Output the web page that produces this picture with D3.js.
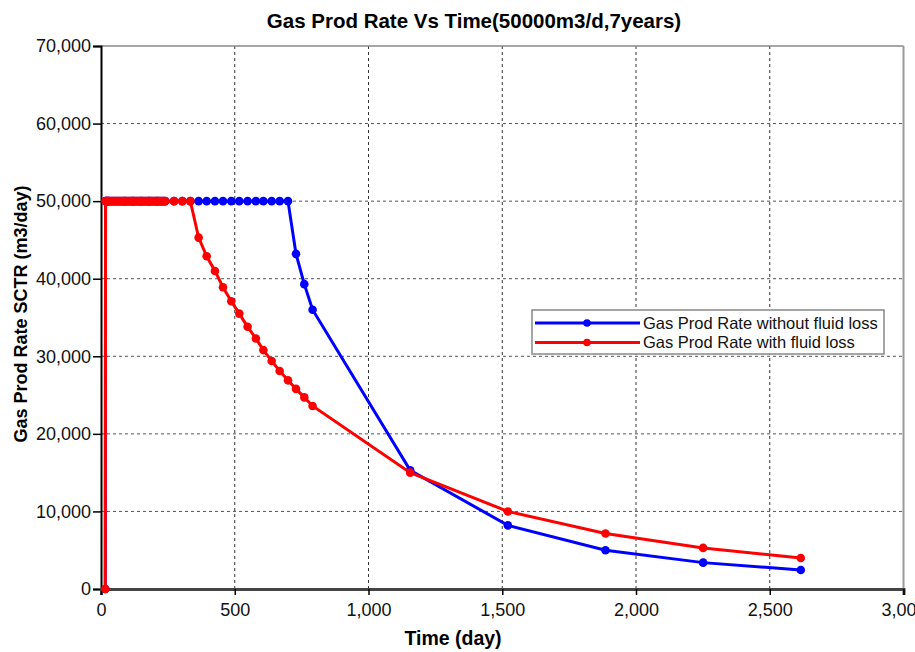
<!DOCTYPE html>
<html>
<head>
<meta charset="utf-8">
<script src="https://cdn.jsdelivr.net/npm/d3@7"></script>
<style>
  body { margin: 0; background: #fff; }
  text { font-family: "Liberation Sans", Arial, sans-serif; }
</style>
</head>
<body>
<div id="chart"></div>
<script>
// time steps (day), shared by both series
const timeDays = [
  16, 17, 20, 24, 28, 31, 38, 45, 52, 59, 66, 73, 80, 87, 90, 97, 104, 111, 118, 120,
  127, 134, 141, 148, 151, 158, 165, 172, 179, 181, 188, 195, 202, 209, 212, 219, 226, 233, 240,
  273, 304, 334,
  365, 395, 426, 456, 487, 517, 548, 579, 607, 638, 668, 699, 729, 760, 791,
  1156, 1521, 1886, 2251, 2616
];

// Gas Prod Rate without fluid loss (m3/day)
const rateNoLoss = [
  0, 50000, 50000, 50000, 50000, 50000, 50000, 50000, 50000, 50000, 50000, 50000, 50000, 50000, 50000, 50000, 50000, 50000, 50000, 50000,
  50000, 50000, 50000, 50000, 50000, 50000, 50000, 50000, 50000, 50000, 50000, 50000, 50000, 50000, 50000, 50000, 50000, 50000, 50000,
  50000, 50000, 50000,
  50000, 50000, 50000, 50000, 50000, 50000, 50000, 50000, 50000, 50000, 50000, 50000, 43200, 39300, 36000,
  15300, 8200, 5000, 3400, 2450
];

// Gas Prod Rate with fluid loss (m3/day)
const rateWithLoss = [
  0, 50000, 50000, 50000, 50000, 50000, 50000, 50000, 50000, 50000, 50000, 50000, 50000, 50000, 50000, 50000, 50000, 50000, 50000, 50000,
  50000, 50000, 50000, 50000, 50000, 50000, 50000, 50000, 50000, 50000, 50000, 50000, 50000, 50000, 50000, 50000, 50000, 50000, 50000,
  50000, 50000, 50000,
  45300, 42900, 41000, 38900, 37100, 35500, 33800, 32300, 30800, 29400, 28100, 26900, 25800, 24700, 23600,
  15000, 10000, 7150, 5300, 4000
];

const xTicks = [0, 500, 1000, 1500, 2000, 2500, 3000];
const yTicks = [0, 10000, 20000, 30000, 40000, 50000, 60000, 70000];
const seriesNames = ["Gas Prod Rate without fluid loss", "Gas Prod Rate with fluid loss"];
const seriesColors = ["#0000ff", "#ff0000"];

const W = 915, H = 652;
const margin = { top: 46, right: 12, bottom: 63, left: 101 };
const width = W - margin.left - margin.right,
      height = H - margin.top - margin.bottom;

const svg = d3.select("#chart").append("svg")
    .attr("width", W)
    .attr("height", H);

const g = svg.append("g")
    .attr("transform", "translate(" + margin.left + "," + margin.top + ")");

const x = d3.scaleLinear().domain([0, 3000]).range([0, 802.5]);
const y = d3.scaleLinear().domain([0, 70000]).range([height, 0]);

// grid
g.append("g").selectAll("line")
    .data(xTicks.slice(1, -1))
    .join("line")
    .attr("x1", d => x(d)).attr("x2", d => x(d))
    .attr("y1", 0).attr("y2", height)
    .attr("stroke", "#333").attr("stroke-width", 1)
    .attr("stroke-dasharray", "3,3");

g.append("g").selectAll("line")
    .data(yTicks.slice(1, -1))
    .join("line")
    .attr("x1", 0).attr("x2", x(3000))
    .attr("y1", d => y(d)).attr("y2", d => y(d))
    .attr("stroke", "#555").attr("stroke-width", 1)
    .attr("stroke-dasharray", "3,3");

// frame top / right
g.append("line")
    .attr("x1", 0).attr("x2", x(3000)).attr("y1", 0).attr("y2", 0)
    .attr("stroke", "#888").attr("stroke-width", 1.5);
g.append("line")
    .attr("x1", x(3000)).attr("x2", x(3000)).attr("y1", 0).attr("y2", height)
    .attr("stroke", "#999").attr("stroke-width", 2);

// axes
const fmt = d3.format(",");
const yAxis = g.append("g")
    .call(d3.axisLeft(y).tickValues(yTicks).tickFormat(fmt).tickSize(8).tickPadding(2));
yAxis.select(".domain").attr("stroke", "#000").attr("stroke-width", 2);
yAxis.selectAll(".tick line").attr("stroke", "#000").attr("stroke-width", 1.5);
yAxis.selectAll("text").attr("font-size", 18).attr("fill", "#111")
    .attr("font-family", "Liberation Sans, Arial, sans-serif");

const xAxis = g.append("g")
    .attr("transform", "translate(0," + height + ")")
    .call(d3.axisBottom(x).tickValues(xTicks).tickFormat(fmt).tickSize(6).tickPadding(8));
xAxis.select(".domain").attr("stroke", "#444").attr("stroke-width", 3);
xAxis.selectAll(".tick line").attr("stroke", "#000").attr("stroke-width", 1.5);
xAxis.selectAll("text").attr("font-size", 18).attr("fill", "#111")
    .attr("font-family", "Liberation Sans, Arial, sans-serif");

// series
const allSeries = [rateNoLoss, rateWithLoss];
const line = d3.line()
    .x((d, i) => x(timeDays[i]))
    .y(d => y(d));

allSeries.forEach(function(vals, k) {
    g.append("path")
        .datum(vals)
        .attr("fill", "none")
        .attr("stroke", seriesColors[k])
        .attr("stroke-width", 3)
        .attr("d", line);
    g.append("g").selectAll("circle")
        .data(vals)
        .join("circle")
        .attr("cx", (d, i) => x(timeDays[i]))
        .attr("cy", d => y(d))
        .attr("r", 4.3)
        .attr("fill", seriesColors[k]);
});

// legend
const lg = svg.append("g").attr("transform", "translate(532,310)");
lg.append("rect")
    .attr("width", 352).attr("height", 44)
    .attr("fill", "#fff").attr("stroke", "#888").attr("stroke-width", 1.5);
seriesNames.forEach(function(name, k) {
    const ly = 13 + k * 19.5;
    lg.append("line")
        .attr("x1", 3).attr("x2", 108).attr("y1", ly).attr("y2", ly)
        .attr("stroke", seriesColors[k]).attr("stroke-width", 3);
    lg.append("circle")
        .attr("cx", 55).attr("cy", ly).attr("r", 3.8)
        .attr("fill", seriesColors[k]);
    lg.append("text")
        .attr("x", 111).attr("y", ly + 5.7)
        .attr("font-size", 16.5).attr("fill", "#111")
        .text(name);
});

// titles
svg.append("text")
    .attr("x", 474).attr("y", 28)
    .attr("text-anchor", "middle")
    .attr("font-size", 20.5).attr("font-weight", "bold")
    .text("Gas Prod Rate Vs Time(50000m3/d,7years)");

svg.append("text")
    .attr("x", 453).attr("y", 645)
    .attr("text-anchor", "middle")
    .attr("font-size", 19.5).attr("font-weight", "bold")
    .text("Time (day)");

svg.append("text")
    .attr("transform", "translate(27,314) rotate(-90)")
    .attr("text-anchor", "middle")
    .attr("font-size", 18).attr("font-weight", "bold")
    .text("Gas Prod Rate SCTR (m3/day)");
</script>
</body>
</html>
